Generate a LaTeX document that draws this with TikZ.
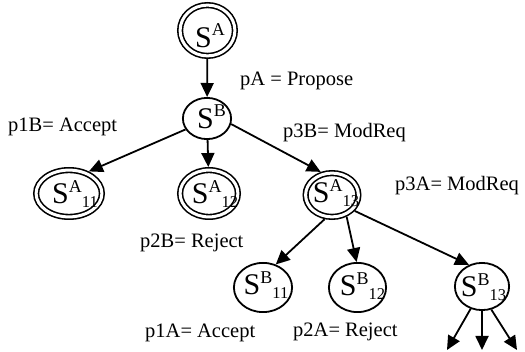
\documentclass[tikz,border=0pt]{standalone}
\usepackage{fontspec}
\setmainfont{Liberation Serif}
\usetikzlibrary{shapes.geometric,arrows.meta}
\newcommand{\stt}[5]{\makebox[0pt]{\hspace*{#1pt}\hspace*{#1pt}\smash{\raisebox{-#2pt}{{\fontsize{30}{30}\selectfont S}\raisebox{#5pt}{\fontsize{18}{18}\selectfont #3}\raisebox{-4pt}{\fontsize{16.5}{16.5}\selectfont #4}}}}}
\begin{document}
\begin{tikzpicture}[x=1pt,y=-1pt,
  st/.style={ellipse, draw, line width=1.8pt, inner sep=0pt, outer sep=0.9pt},
  dst/.style={ellipse, draw, line width=1.6pt, inner sep=0pt, double, double distance=3pt, outer sep=3.1pt},
  lbl/.style={inner sep=0pt, anchor=base west, font=\fontsize{20.5}{20.5}\selectfont},
  arr/.style={line width=1.8pt, -{Triangle[length=14pt,width=13pt]}}]
\useasboundingbox[fill=white] (0,0) rectangle (525,352);
% states
\node[dst, minimum width=54.8pt, minimum height=50.8pt] (SA) at (207.5,30.5) {\stt{2.5}{17.5}{A}{}{12.5}};
\node[st, minimum width=48.2pt, minimum height=41.2pt] (SB) at (207,118.5) {\stt{4.5}{10.5}{B}{}{12.5}};
\node[dst, minimum width=65.8pt, minimum height=46.8pt] (S11) at (69,193.5) {\stt{6}{10.5}{A}{11}{11}};
\node[dst, minimum width=57.8pt, minimum height=46.8pt] (S12) at (209,193.5) {\stt{6}{10.5}{A}{12}{11}};
\node[dst, minimum width=52.8pt, minimum height=43.8pt] (S13) at (332,195) {\stt{4}{8}{A}{13}{11}};
\node[st, minimum width=58.2pt, minimum height=49.2pt] (S11B) at (263,287.5) {\stt{3}{7}{B}{11}{11}};
\node[st, minimum width=57.2pt, minimum height=49.2pt] (S12B) at (357.5,287.5) {\stt{5}{8}{B}{12}{11}};
\node[st, minimum width=54.2pt, minimum height=47.2pt] (S13B) at (482,286.5) {\stt{1.5}{10}{B}{13}{11}};
\coordinate (e1) at (447,350);
\coordinate (e2) at (482,350);
\coordinate (e3) at (517,350);
% labels
\node[lbl] (lA) at (240,86) {pA = Propose};
\node[lbl] (l1B) at (8,131.5) {p1B= Accept};
\node[lbl] (l3B) at (283,138) {p3B= ModReq};
\node[lbl] (l2B) at (140,247.5) {p2B= Reject};
\node[lbl] (l3A) at (395,191) {p3A= ModReq};
\node[lbl] (l1A) at (145,338) {p1A= Accept};
\node[lbl] (l2A) at (293,337) {p2A= Reject};
% connectors
\draw[arr] (SA) -- (SB);
\draw[arr] (SB.207) -- (S11.48);
\draw[arr] (SB) -- (S12);
\draw[arr] (SB.347) -- (S13.116);
\draw[arr] (S13.253) -- (S11B.61);
\draw[arr] (S13.304) -- (S12B.92);
\draw[arr] (S13.325) -- (S13B.121);
\draw[arr] (S13B.243) -- (e1);
\draw[arr] (S13B.south) -- (e2);
\draw[arr] (S13B.292) -- (e3);
\end{tikzpicture}
\end{document}
